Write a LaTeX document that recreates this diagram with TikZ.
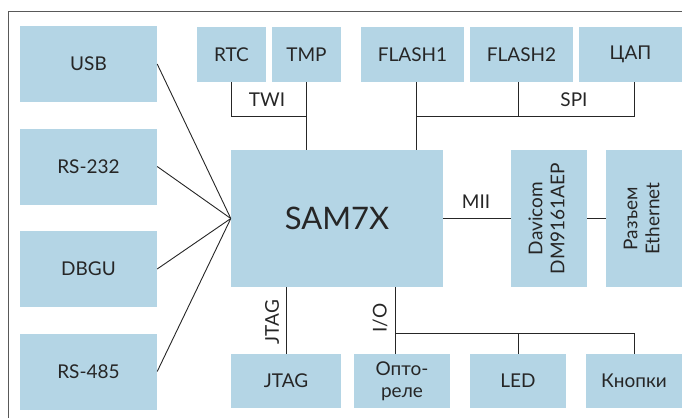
\documentclass[tikz,border=0pt]{standalone}
\usepackage{fontspec}
\setmainfont{Lato}
\usepackage{graphicx}
\usetikzlibrary{calc}
\definecolor{boxblue}{HTML}{B4D5E5}
\tikzset{
  blk/.style={fill=boxblue, inner sep=0pt, text=black!85, align=center,
    font=\fontsize{19}{22}\selectfont},
  lbl/.style={inner sep=0pt, text=black!85, font=\fontsize{19}{22}\selectfont},
  bus/.style={line width=0.9pt, black!85},
}

\begin{document}
\begin{tikzpicture}[x=1pt,y=-1pt]
    \useasboundingbox (0,0) rectangle (685,418);
    % outer frame (top and left side only)
    \draw[black!65, line width=1pt] (8.5,418) -- (8.5,11) -- (682,11);

    % central controller
    \node[blk, minimum width=212, minimum height=137,
      font=\fontsize{31}{36}\selectfont] (sam) at (337,218.5) {SAM7X};

    % left column: serial interfaces, all wired to one point of SAM7X
    \foreach \name/\txt/\y in {usb/USB/64, rsa/RS-232/166.5, dbgu/DBGU/269, rsb/RS-485/371.5} {
        \node[blk, minimum width=137, minimum height=76] (\name) at (88.5,\y) {\txt};
        \draw[bus] (\name.east) -- (sam.west);
    }

    % top row
    \node[blk, minimum width=69, minimum height=55] (rtc) at (231.5,54.5) {RTC};
    \node[blk, minimum width=69, minimum height=55] (tmp) at (306.5,54.5) {TMP};
    \node[blk, minimum width=103, minimum height=55] (fla) at (412.5,54.5) {FLASH1};
    \node[blk, minimum width=103, minimum height=55] (flb) at (521.5,54.5) {FLASH2};
    \node[blk, minimum width=103, minimum height=55] (dac) at (630.5,54.5) {ЦАП};

    % TWI bus
    \coordinate (twi) at (306.5,116);
    \draw[bus] (rtc.south) |- (twi);
    \draw[bus] (tmp.south) -- (tmp.south |- sam.north);
    \node[lbl] (twil) at (267,100) {TWI};

    % SPI bus
    \coordinate (spi) at (416,116);
    \coordinate (spimid) at (518,116);
    \coordinate (spiend) at (634,116);
    \draw[bus] (fla.south -| spi) -- (spi |- sam.north);
    \draw[bus] (spi) -- (spiend) -- (spiend |- dac.south);
    \draw[bus] (spimid) -- (spimid |- flb.south);
    \node[lbl] (spil) at (574,100) {SPI};

    % Ethernet chain
    \node[blk, minimum width=76, minimum height=137] (dav) at (549,218.5)
      {\rotatebox{90}{\begin{tabular}{@{}c@{}}Davicom\\DM9161AEP\end{tabular}}};
    \node[blk, minimum width=76, minimum height=137] (eth) at (644,218.5)
      {\rotatebox{90}{\begin{tabular}{@{}c@{}}Разъем\\Ethernet\end{tabular}}};
    \draw[bus] (sam.east) -- (dav.west);
    \draw[bus] (dav.east) -- (eth.west);
    \node[lbl] (miil) at (476,202) {MII};

    % bottom row
    \node[blk, minimum width=110, minimum height=54] (jtag) at (286,381) {JTAG};
    \node[blk, minimum width=96, minimum height=54] (opto) at (402,381) {Опто-\\реле};
    \node[blk, minimum width=96, minimum height=54] (led) at (518,381) {LED};
    \node[blk, minimum width=96, minimum height=54] (knp) at (634,381) {Кнопки};

    % JTAG link
    \draw[bus] (jtag.north) -- (jtag.north |- sam.south);
    \node[lbl, rotate=90] (jtagl) at (272,322) {JTAG};

    % I/O bus
    \coordinate (io) at (395,333);
    \draw[bus] (sam.south -| io) -- (io |- opto.north);
    \draw[bus] (io) -| (knp.north);
    \draw[bus] (led.north) -- (led.north |- io);
    \node[lbl, rotate=90] (iol) at (380,318) {I/O};
\end{tikzpicture}
\end{document}
